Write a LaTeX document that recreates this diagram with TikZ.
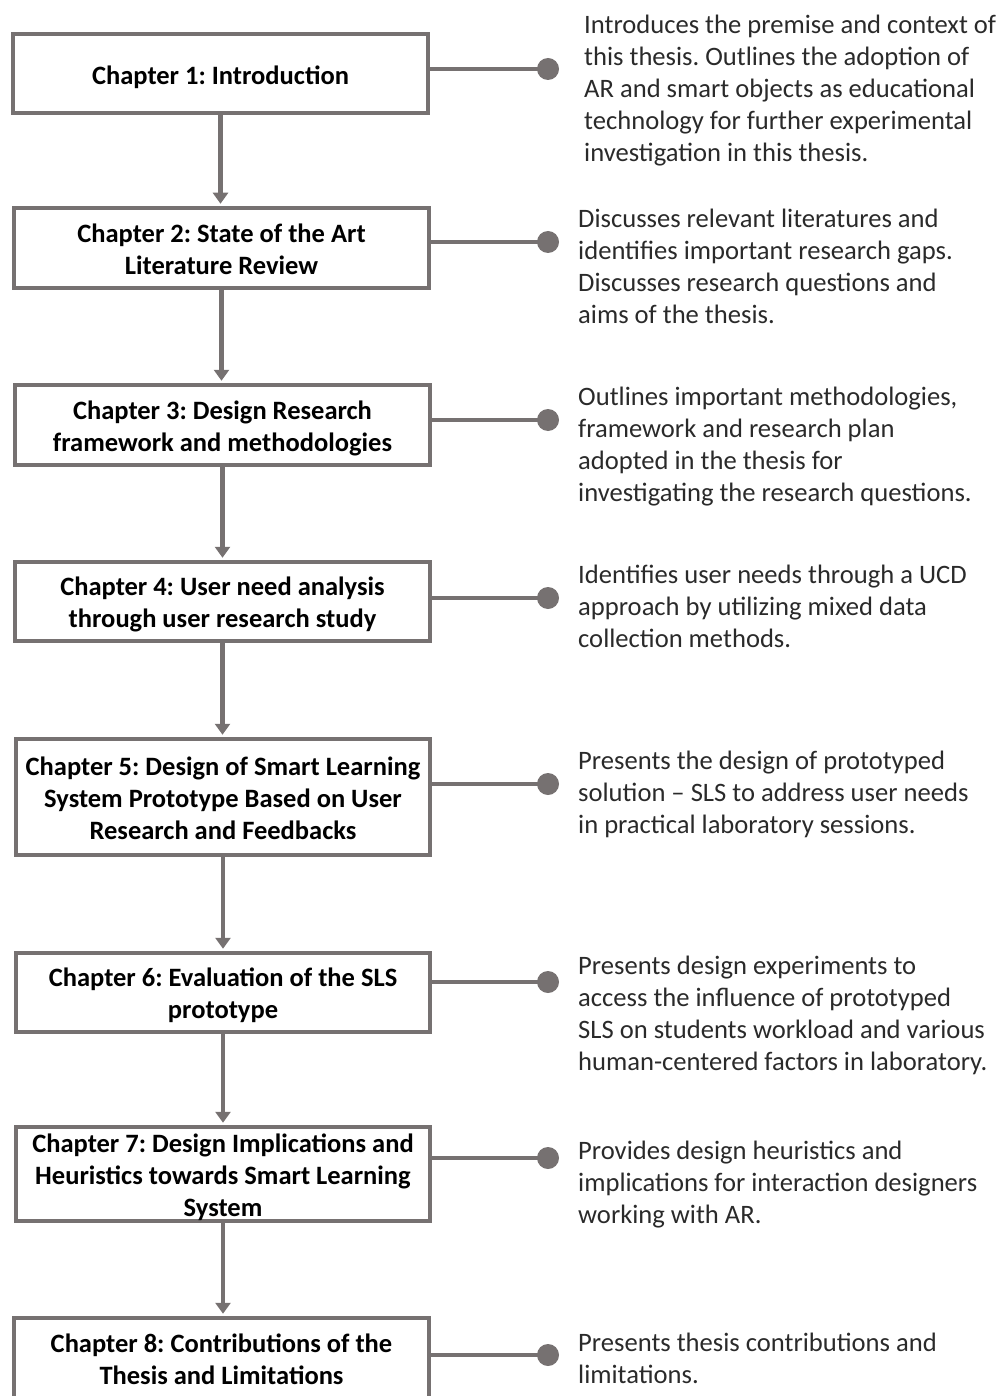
\documentclass[tikz,border=0pt]{standalone}
\usepackage{fontspec}
\setmainfont{Carlito}
\usetikzlibrary{arrows.meta}
\definecolor{framegray}{HTML}{767171}
\definecolor{desctext}{HTML}{2A2A2A}
\newcommand{\headstrut}{\rule{0pt}{30pt}}
\newcommand{\tailstrut}{\rule[-6.2pt]{0pt}{6.2pt}}
\begin{document}
\frenchspacing
\begin{tikzpicture}[x=1pt,y=-1pt,
  chapbox/.style={draw=framegray, line width=4.5pt, fill=white, inner sep=0pt},
  chaptext/.style={inner sep=0pt, align=center,
    font=\bfseries\fontsize{26.5}{32}\selectfont,
    execute at begin node=\headstrut, execute at end node=\tailstrut},
  desc/.style={anchor=west, inner sep=0pt, align=left, text=desctext,
    font=\fontsize{26.6}{32}\selectfont,
    execute at begin node=\headstrut, execute at end node=\tailstrut},
  dot/.style={circle, fill=framegray, inner sep=0pt, minimum size=22pt},
  flow/.style={draw=framegray, line width=4.5pt,
    -{Triangle[width=15pt,length=11pt]}, shorten >=2pt},
  link/.style={draw=framegray, line width=4.5pt}]
\useasboundingbox (0,0) rectangle (1003,1396);
\clip (0,0) rectangle (1003,1396);

% chapter boxes
\node[chapbox, minimum width=415pt, minimum height=79pt] (b1) at (220.5,73.5) {};
\node[chapbox, minimum width=415pt, minimum height=80pt] (b2) at (221.5,248) {};
\node[chapbox, minimum width=415pt, minimum height=80pt] (b3) at (222.5,425) {};
\node[chapbox, minimum width=415pt, minimum height=79pt] (b4) at (222.5,601.5) {};
\node[chapbox, minimum width=414pt, minimum height=116pt] (b5) at (223,797) {};
\node[chapbox, minimum width=414pt, minimum height=79pt] (b6) at (223,992.5) {};
\node[chapbox, minimum width=414pt, minimum height=94pt] (b7) at (223,1174) {};
\node[chapbox, minimum width=415pt, minimum height=81pt] (b8) at (221.5,1358.5) {};

% chapter titles
\node[chaptext] (c1) at ([yshift=1pt]b1.center) {Chapter 1: Introduction};
\node[chaptext] (c2) at ([yshift=-4pt]b2.center) {Chapter 2: State of the Art\\Literature Review};
\node[chaptext] (c3) at ([yshift=-4pt]b3.center) {Chapter 3: Design Research\\framework and methodologies};
\node[chaptext] (c4) at ([yshift=-4pt]b4.center) {Chapter 4: User need analysis\\through user research study};
\node[chaptext] (c5) at ([yshift=-4pt]b5.center) {Chapter 5: Design of Smart Learning\\System Prototype Based on User\\Research and Feedbacks};
\node[chaptext] (c6) at ([yshift=-4pt]b6.center) {Chapter 6: Evaluation of the SLS\\prototype};
\node[chaptext] (c7) at ([yshift=-4pt]b7.center) {Chapter 7: Design Implications and\\Heuristics towards Smart Learning\\System};
\node[chaptext] (c8) at ([yshift=-4pt]b8.center) {Chapter 8: Contributions of the\\Thesis and Limitations};

% flow between chapters
\draw[flow] (b1.south) -- (b1.south |- b2.north);
\draw[flow] (b2.south) -- (b2.south |- b3.north);
\draw[flow] (b3.south) -- (b3.south |- b4.north);
\draw[flow] (b4.south) -- (b4.south |- b5.north);
\draw[flow] (b5.south) -- (b5.south |- b6.north);
\draw[flow] (b6.south) -- (b6.south |- b7.north);
\draw[flow] (b7.south) -- (b7.south |- b8.north);

% end dots
\node[dot] (d1) at (548,69) {};
\node[dot] (d2) at (548,242) {};
\node[dot] (d3) at (548,420) {};
\node[dot] (d4) at (548,598) {};
\node[dot] (d5) at (548,784) {};
\node[dot] (d6) at (548,982) {};
\node[dot] (d7) at (548,1158) {};
\node[dot] (d8) at (548,1355) {};
\foreach \i in {1,...,8}{
  \draw[link] (d\i -| b\i.east) -- (d\i.center);
}

% descriptions
\node[desc] (t1) at (584,91) {Introduces the premise and context of\\this thesis. Outlines the adoption of\\AR and smart objects as educational\\technology for further experimental\\investigation in this thesis.};
\node[desc] (t2) at (578,269.5) {Discusses relevant literatures and\\identifies important research gaps.\\Discusses research questions and\\aims of the thesis.};
\node[desc] (t3) at (578,447) {Outlines important methodologies,\\framework and research plan\\adopted in the thesis for\\investigating the research questions.};
\node[desc] (t4) at (578,609) {Identifies user needs through a UCD\\approach by utilizing mixed data\\collection methods.};
\node[desc] (t5) at (578,795) {Presents the design of prototyped\\solution -- SLS to address user needs\\in practical laboratory sessions.};
\node[desc] (t6) at (578,1016) {Presents design experiments to\\access the influence of prototyped\\SLS on students workload and various\\human-centered factors in laboratory.};
\node[desc] (t7) at (578,1185) {Provides design heuristics and\\implications for interaction designers\\working with AR.};
\node[desc] (t8) at (578,1361) {Presents thesis contributions and\\limitations.};
\end{tikzpicture}
\end{document}
